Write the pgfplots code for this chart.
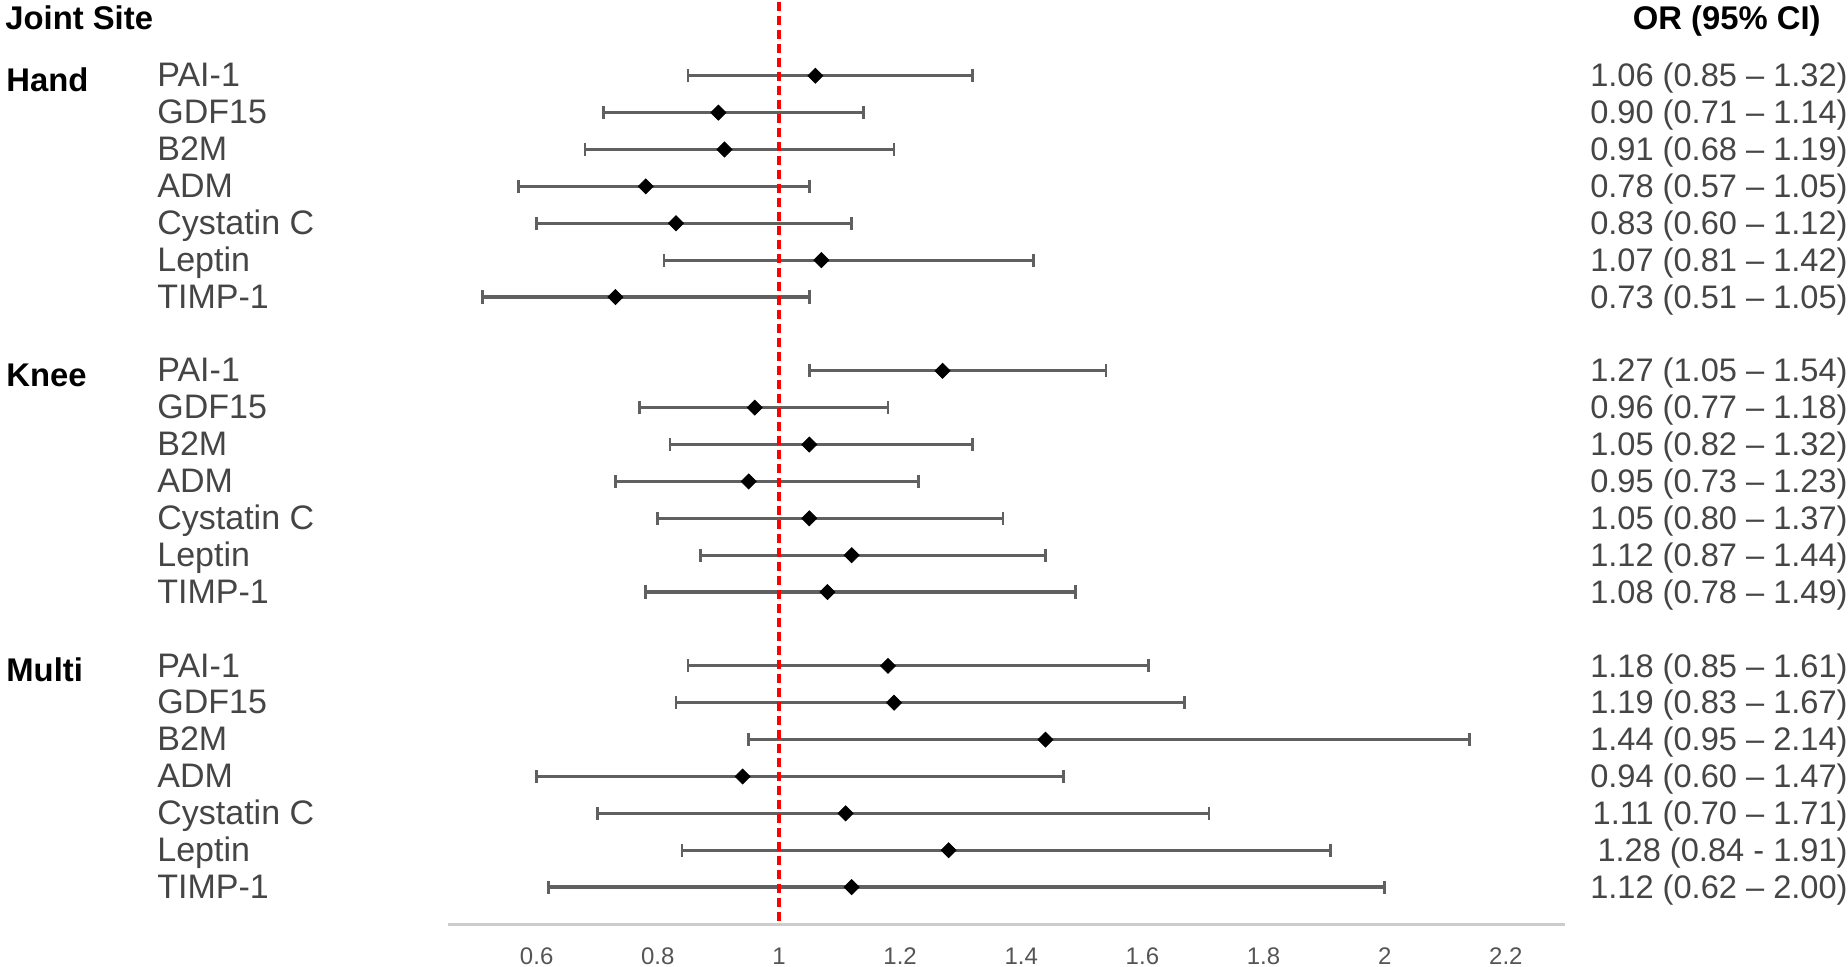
\documentclass[border=0pt]{standalone}
\usepackage{fontspec}
\setmainfont{Liberation Sans}
\usepackage{pgfplots}
\usepackage{pgfplotstable}
\pgfplotsset{compat=1.18}

\definecolor{barcol}{HTML}{606060}
\definecolor{txtgrey}{HTML}{454545}
\definecolor{tickgrey}{HTML}{555555}
\definecolor{axisgrey}{HTML}{CCCCCC}

% row = position from the top (gaps at 7 and 15)
\pgfplotstableread{
row or   lo   hi
0   1.06 0.85 1.32
1   0.90 0.71 1.14
2   0.91 0.68 1.19
3   0.78 0.57 1.05
4   0.83 0.60 1.12
5   1.07 0.81 1.42
6   0.73 0.51 1.05
8   1.27 1.05 1.54
9   0.96 0.77 1.18
10  1.05 0.82 1.32
11  0.95 0.73 1.23
12  1.05 0.80 1.37
13  1.12 0.87 1.44
14  1.08 0.78 1.49
16  1.18 0.85 1.61
17  1.19 0.83 1.67
18  1.44 0.95 2.14
19  0.94 0.60 1.47
20  1.11 0.70 1.71
21  1.28 0.84 1.91
22  1.12 0.62 2.00
}\ordata

\pgfplotsset{
  forest/.style={
    scale only axis, width=558.5pt, height=461pt,
    xmin=0.4536, xmax=2.2976, ymin=-2, ymax=23, y dir=reverse,
    clip=false, major tick length=0pt,
    ytick={0,1,2,3,4,5,6,8,9,10,11,12,13,14,16,17,18,19,20,21,22},
  },
}

\begin{document}
\begin{tikzpicture}
\begin{axis}[forest, name=main,
  axis x line=bottom, axis y line=left,
  x axis line style={-, draw=axisgrey, line width=1.5pt},
  y axis line style={draw=none},
  xtick={0.6,0.8,1,1.2,1.4,1.6,1.8,2,2.2},
  /pgf/number format/assume math mode=true,
  xticklabel style={anchor=base, inner sep=0pt, yshift=-20pt,
    font=\fontsize{12}{12}\selectfont, text=tickgrey},
  yticklabels={PAI-1,GDF15,B2M,ADM,Cystatin C,Leptin,TIMP-1,
               PAI-1,GDF15,B2M,ADM,Cystatin C,Leptin,TIMP-1,
               PAI-1,GDF15,B2M,ADM,Cystatin C,Leptin,TIMP-1},
  yticklabel style={anchor=base west, inner sep=0pt, xshift=-145.5pt, yshift=-5.6pt,
    font=\fontsize{17}{17}\selectfont, text=txtgrey},
]
% confidence intervals
\addplot[draw=none, mark=none, forget plot,
  error bars/.cd, x dir=both, x explicit,
  error bar style={draw=barcol, line width=1.65pt},
  error mark options={rotate=90, draw=barcol, line width=1.35pt, mark size=3.3pt}]
  table[x=or, y=row,
        x error plus expr=\thisrow{hi}-\thisrow{or},
        x error minus expr=\thisrow{or}-\thisrow{lo}] {\ordata};
% reference line at OR = 1
\addplot[red, line width=2pt, dash pattern=on 4.5pt off 2.5pt] coordinates {(1,-2) (1,23)};
% point estimates
\addplot[only marks, mark=square*, mark size=2.65pt, mark options={rotate=45, black}]
  table[x=or, y=row] {\ordata};

\node[anchor=base west, inner sep=0pt, font=\bfseries\fontsize{16.4}{17}\selectfont]
  at ([xshift=-221.5pt, yshift=-14pt]axis cs:0.4536,-2) {Joint Site};
\node[anchor=base east, inner sep=0pt, font=\bfseries\fontsize{16.4}{17}\selectfont]
  at ([xshift=128pt, yshift=-14pt]axis cs:2.2976,-2) {OR (95\% CI)};
\node[anchor=base west, inner sep=0pt, font=\bfseries\fontsize{16.4}{17}\selectfont]
  at ([xshift=-221pt, yshift=-8pt]axis cs:0.4536,0) {Hand};
\node[anchor=base west, inner sep=0pt, font=\bfseries\fontsize{16.4}{17}\selectfont]
  at ([xshift=-221pt, yshift=-8pt]axis cs:0.4536,8) {Knee};
\node[anchor=base west, inner sep=0pt, font=\bfseries\fontsize{16.4}{17}\selectfont]
  at ([xshift=-221pt, yshift=-8pt]axis cs:0.4536,16) {Multi};
\end{axis}

\begin{axis}[forest,
  axis x line=none, axis y line=right,
  y axis line style={draw=none}, xtick=\empty,
  yticklabels={1.06 (0.85 – 1.32),0.90 (0.71 – 1.14),0.91 (0.68 – 1.19),0.78 (0.57 – 1.05),
               0.83 (0.60 – 1.12),1.07 (0.81 – 1.42),0.73 (0.51 – 1.05),
               1.27 (1.05 – 1.54),0.96 (0.77 – 1.18),1.05 (0.82 – 1.32),0.95 (0.73 – 1.23),
               1.05 (0.80 – 1.37),1.12 (0.87 – 1.44),1.08 (0.78 – 1.49),
               1.18 (0.85 – 1.61),1.19 (0.83 – 1.67),1.44 (0.95 – 2.14),0.94 (0.60 – 1.47),
               1.11 (0.70 – 1.71),1.28 (0.84 - 1.91),1.12 (0.62 – 2.00)},
  yticklabel style={anchor=base east, inner sep=0pt, xshift=141.5pt, yshift=-5.6pt,
    font=\fontsize{16.3}{17}\selectfont, text=txtgrey},
]
\addplot[draw=none, mark=none] table[x=or, y=row] {\ordata};
\end{axis}

\path ([xshift=-224pt]main.north west) rectangle ([xshift=141.5pt, yshift=-21.5pt]main.south east);
\end{tikzpicture}
\end{document}
